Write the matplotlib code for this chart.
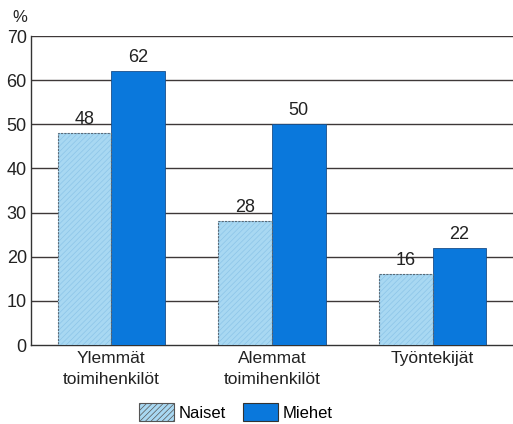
import matplotlib
matplotlib.use("Agg")
import matplotlib.pyplot as plt
import numpy as np
from matplotlib.patches import Patch

categories = ["Ylemmät\ntoimihenkilöt", "Alemmat\ntoimihenkilöt", "Työntekijät"]
naiset = [48, 28, 16]
miehet = [62, 50, 22]
yticks = [0, 10, 20, 30, 40, 50, 60, 70]

c_naiset = "#a8d8f2"
c_naiset_hatch = "#8cc4e8"
c_miehet = "#0a78dc"

plt.rcParams['font.family'] = ['Liberation Sans', 'DejaVu Sans']
plt.rcParams['hatch.linewidth'] = 0.5

fig = plt.figure(figsize=(5.13, 4.24), dpi=100)
ax = fig.add_axes([31/513, 79/424, 1 - 31/513, (345-36)/424])

x = np.arange(len(categories))
w = 0.333
ax.bar(x - w/2, naiset, w, color=c_naiset, edgecolor=c_naiset_hatch, hatch='//////', linewidth=0, zorder=3)
ax.bar(x - w/2, naiset, w, fill=False, edgecolor="#5a6a78", linewidth=0.8, linestyle=(0, (2, 1)), zorder=4)
ax.bar(x + w/2, miehet, w, color=c_miehet, edgecolor="#1a4f8a", linewidth=0.6, zorder=3)

for xi, v in zip(x - w/2, naiset):
    ax.text(xi, v + 1.2, str(v), ha='center', va='bottom', fontsize=13, color="#222222", zorder=5)
for xi, v in zip(x + w/2, miehet):
    ax.text(xi, v + 1.2, str(v), ha='center', va='bottom', fontsize=13, color="#222222", zorder=5)

ax.set_xlim(-0.5, 2.5)
ax.set_ylim(0, 70)
ax.set_yticks(yticks)
ax.set_yticklabels([str(t) for t in yticks], fontsize=13, color="#222222")
ax.set_xticks(x)
ax.set_xticklabels(categories, fontsize=12.5, color="#222222", linespacing=1.5)
ax.tick_params(axis='x', length=0, pad=4)
ax.tick_params(axis='y', length=0, pad=3)

for t in yticks[1:]:
    ax.axhline(t, color="#3e3838", linewidth=1.0, zorder=1)

for s in ['top', 'right']:
    ax.spines[s].set_visible(False)
ax.spines['left'].set_color("#333333")
ax.spines['bottom'].set_color("#333333")
ax.spines['left'].set_linewidth(1.0)
ax.spines['bottom'].set_linewidth(1.0)

fig.text(12/513, 1 - 17/424, "%", fontsize=12, color="#222222", ha='left', va='center')

handles = [Patch(facecolor=c_naiset, edgecolor="#555555", hatch='//////', linewidth=0.8),
           Patch(facecolor=c_miehet, edgecolor="#333333", linewidth=0.8)]
fig.legend(handles, ["Naiset", "Miehet"], loc='center', bbox_to_anchor=(236/513, 12/424),
           ncol=2, frameon=False, fontsize=12, handlelength=2.1, handleheight=1.25,
           handletextpad=0.3, columnspacing=1.0, borderpad=0, borderaxespad=0)

fig.savefig("out.png", dpi=100)
